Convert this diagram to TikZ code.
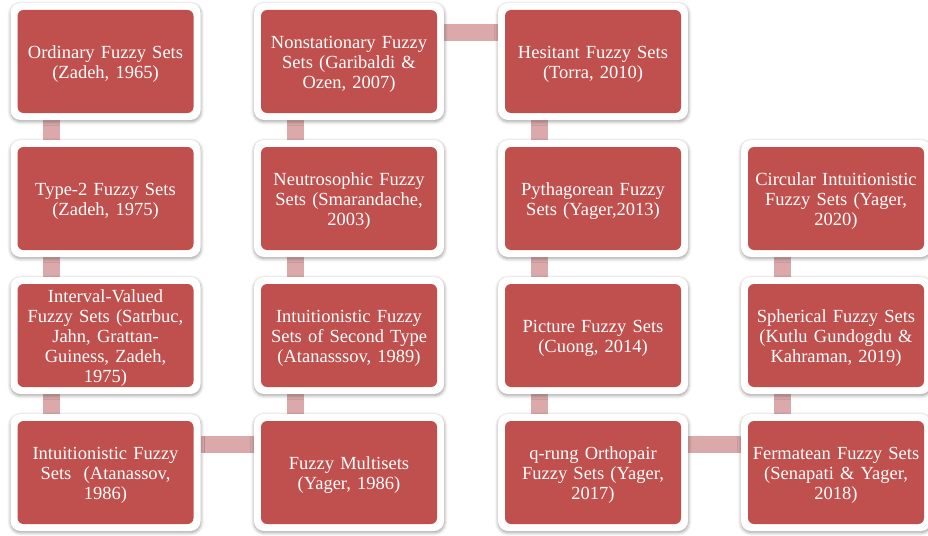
\documentclass[tikz,border=0pt]{standalone}
\usepackage{fontspec}
\setmainfont{Liberation Serif}
\newfontfamily\boxfont{Liberation Serif}
\usetikzlibrary{shadows.blur}
\pgfdeclarelayer{background}
\pgfsetlayers{background,main}
\definecolor{boxred}{HTML}{C0504D}
\definecolor{barpink}{HTML}{DBA9AA}
\tikzset{
  fbox/.style={fill=white, draw=none, rounded corners=10pt,
    minimum width=190pt, minimum height=117pt, inner sep=0pt, outer sep=0pt,
    text width=176pt, align=center, text=white,
    font=\boxfont\fontsize{18.5}{20}\selectfont,
    execute at begin node={\rule{0pt}{18.5pt}},
    path picture={\fill[boxred, rounded corners=6pt]
      ([shift={(7pt,7pt)}]path picture bounding box.south west) rectangle
      ([shift={(-7pt,-7pt)}]path picture bounding box.north east);},
    blur shadow={shadow xshift=0.3pt, shadow yshift=-1.5pt, shadow blur radius=3.5pt, shadow blur steps=6, shadow opacity=40}},
  bar/.style={draw=barpink, line width=17pt}
}
\begin{document}
\begin{tikzpicture}[x=1pt,y=-1pt]
\useasboundingbox (0,0) rectangle (928,535);
% column x: 105.5, 349, 593, 836 ; row y: 61.5, 198.5, 335.5, 472.5
\node[fbox] (r1c1) at (105.5,61.5) {Ordinary Fuzzy Sets\\(Zadeh, 1965)};
\node[fbox] (r2c1) at (105.5,198.5) {Type-2 Fuzzy Sets\\(Zadeh, 1975)};
\node[fbox] (r3c1) at (105.5,335.5) {Interval-Valued\\Fuzzy Sets (Satrbuc,\\Jahn, Grattan-\\Guiness, Zadeh,\\1975)};
\node[fbox] (r4c1) at (105.5,472.5) {Intuitionistic Fuzzy\\Sets~ (Atanassov,\\1986)};
\node[fbox] (r1c2) at (349,61.5) {Nonstationary Fuzzy\\Sets (Garibaldi \&\\Ozen, 2007)};
\node[fbox] (r2c2) at (349,198.5) {Neutrosophic Fuzzy\\Sets (Smarandache,\\2003)};
\node[fbox] (r3c2) at (349,335.5) {Intuitionistic Fuzzy\\Sets of Second Type\\(Atanasssov, 1989)};
\node[fbox] (r4c2) at (349,472.5) {Fuzzy Multisets\\(Yager, 1986)};
\node[fbox] (r1c3) at (593,61.5) {Hesitant Fuzzy Sets\\(Torra, 2010)};
\node[fbox] (r2c3) at (593,198.5) {Pythagorean Fuzzy\\Sets (Yager,2013)};
\node[fbox] (r3c3) at (593,335.5) {Picture Fuzzy Sets\\(Cuong, 2014)};
\node[fbox] (r4c3) at (593,472.5) {q-rung Orthopair\\Fuzzy Sets (Yager,\\2017)};
\node[fbox] (r2c4) at (836,198.5) {Circular Intuitionistic\\Fuzzy Sets (Yager,\\2020)};
\node[fbox] (r3c4) at (836,335.5) {Spherical Fuzzy Sets\\(Kutlu Gundogdu \&\\Kahraman, 2019)};
\node[fbox] (r4c4) at (836,472.5) {Fermatean Fuzzy Sets\\(Senapati \& Yager,\\2018)};
\begin{pgfonlayer}{background}
% vertical bars
\foreach \c in {1,2,3} {
  \draw[bar] ([xshift=41pt]r1c\c.south west) -- ([xshift=41pt]r2c\c.north west);
}
\foreach \c in {1,2,3,4} {
  \draw[bar] ([xshift=41pt]r2c\c.south west) -- ([xshift=41pt]r3c\c.north west);
  \draw[bar] ([xshift=41pt]r3c\c.south west) -- ([xshift=41pt]r4c\c.north west);
}
% horizontal bars
\draw[bar] ([yshift=-30pt]r4c1.north east) -- ([yshift=-30pt]r4c2.north west);
\draw[bar] ([yshift=-30pt]r1c2.north east) -- ([yshift=-30pt]r1c3.north west);
\draw[bar] ([yshift=-30pt]r4c3.north east) -- ([yshift=-30pt]r4c4.north west);
\end{pgfonlayer}
\end{tikzpicture}
\end{document}
